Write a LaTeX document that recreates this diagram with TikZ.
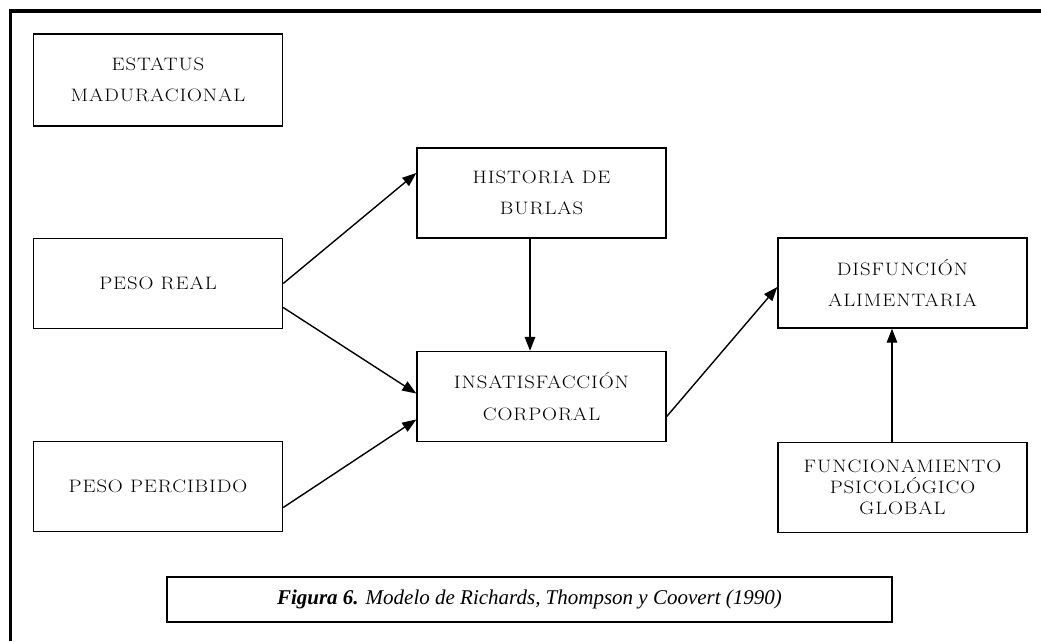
\documentclass[tikz,border=0pt]{standalone}
\usepackage{fontspec}
\usetikzlibrary{arrows.meta}
\newfontfamily\boxfont{Latin Modern Roman}[LetterSpace=5,FakeStretch=1.15]
\newfontfamily\capfont{Liberation Serif}
\begin{document}
\begin{tikzpicture}[x=1pt,y=-1pt,
  varbox/.style={draw,line width=1.4pt,rectangle,minimum width=249pt,minimum height=90pt,
    inner sep=0pt,align=center,font=\boxfont\fontsize{18}{31.5}\selectfont},
  link/.style={line width=1.4pt,-{Triangle[length=14pt,width=10.5pt]}}]
\useasboundingbox (0,0) rectangle (1041,641);
% frame
\draw[line width=3.5pt] (10.5,641) -- (10.5,11) -- (1041,11);
% variables
\node[varbox,minimum height=92pt] (est) at (158,80) {ESTATUS\\MADURACIONAL};
\node[varbox] (real) at (158,283.5) {PESO REAL};
\node[varbox] (perc) at (158,486.5) {PESO PERCIBIDO};
\node[varbox] (hist) at (541.5,193) {HISTORIA DE\\BURLAS};
\node[varbox] (insat) at (541.5,396.5) {INSATISFACCIÓN\\CORPORAL};
\node[varbox] (disf) at (902.5,283) {DISFUNCIÓN\\ALIMENTARIA};
\node[varbox,font=\boxfont\fontsize{18}{21}\selectfont] (func) at (902.5,487.5) {FUNCIONAMIENTO\\PSICOLÓGICO\\GLOBAL};
% caption
\node[draw,line width=1.4pt,minimum width=725pt,minimum height=45pt,inner sep=0pt,
  font=\capfont\fontsize{21}{25}\selectfont] (cap) at (529.5,599.5)
  {\textbf{\textit{Figura 6.}} \textit{Modelo de Richards, Thompson y Coovert (1990)}};
% paths
\draw[link] (real.east) -- ([yshift=20pt]hist.west);
\draw[link] ([yshift=-24pt]real.east) -- ([yshift=3pt]insat.west);
\draw[link] ([yshift=-21pt]perc.east) -- ([yshift=-23pt]insat.west);
\draw[link] ([xshift=-11.5pt]hist.south) -- ([xshift=-11.5pt]insat.north);
\draw[link] ([yshift=-20pt]insat.east) -- ([yshift=-4pt]disf.west);
\draw[link] ([xshift=-10.5pt]func.north) -- ([xshift=-10.5pt]disf.south);
\end{tikzpicture}
\end{document}
